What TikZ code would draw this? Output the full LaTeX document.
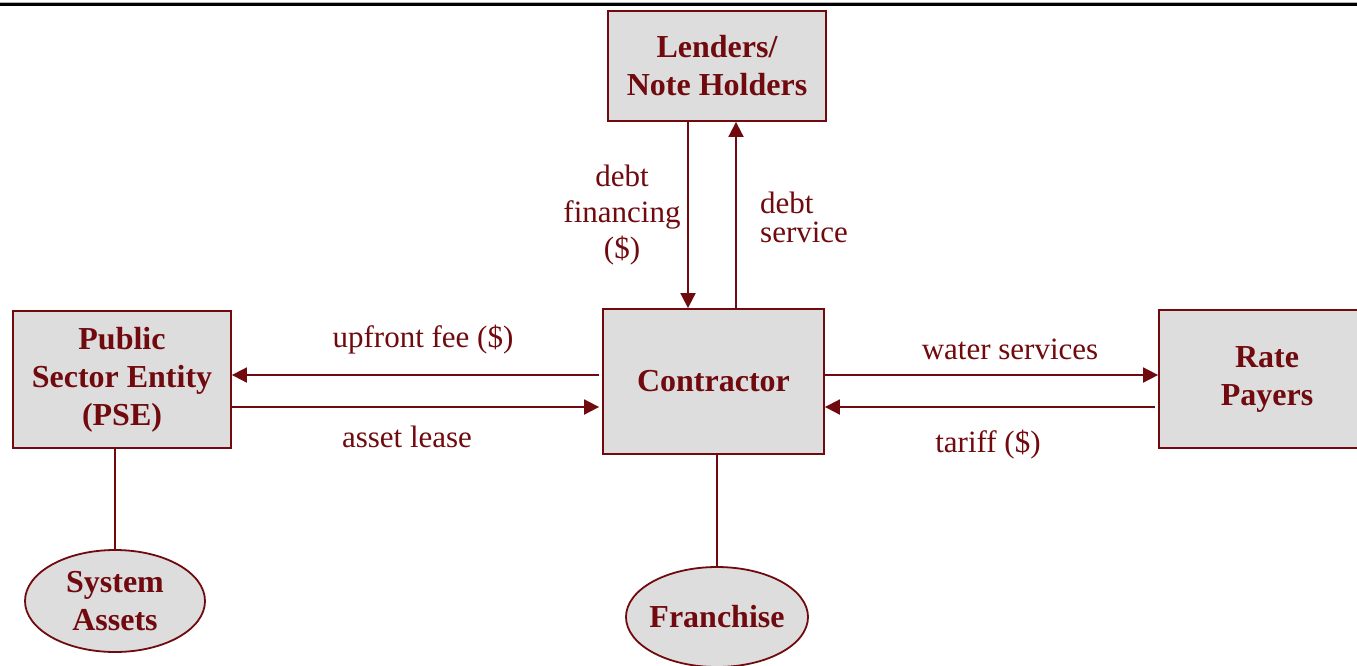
\documentclass[tikz,border=0pt]{standalone}
\usepackage{fontspec}
\setmainfont{Liberation Serif}
\usetikzlibrary{arrows.meta,shapes.geometric}
\definecolor{dred}{RGB}{112,10,14}
\definecolor{boxgray}{RGB}{221,221,221}
\tikzset{
  box/.style={draw=dred,fill=boxgray,line width=1.8pt,inner sep=0pt,align=center,
    text=dred,font=\fontsize{32}{38}\selectfont\bfseries},
  oval/.style={ellipse,draw=dred,fill=boxgray,line width=1.8pt,inner xsep=-10pt,inner ysep=0pt,align=center,
    text=dred,font=\fontsize{32}{38}\selectfont\bfseries},
  arr/.style={draw=dred,line width=1.8pt,-{Triangle[length=15pt,width=15pt]}},
  link/.style={draw=dred,line width=1.8pt},
  lbl/.style={text=dred,inner sep=0pt,align=center,font=\fontsize{31}{36}\selectfont}
}
\begin{document}
\begin{tikzpicture}[x=1pt,y=-1pt]
\useasboundingbox (0,0) rectangle (1357,665);
\fill[white] (0,0) rectangle (1357,665);
\draw[black,line width=2.6pt] (0,4.5) -- (1357,4.5);
\draw[gray!60,line width=0.8pt] (0,2.6) -- (1357,2.6);

\node[box,minimum width=218pt,minimum height=110pt] (len) at (717,66) {\raisebox{-2pt}{\parbox{200pt}{\centering Lenders/\\Note Holders}}};
\node[box,minimum width=221pt,minimum height=145pt] (con) at (713.5,381.5) {Contractor};
\node[box,minimum width=218pt,minimum height=137pt] (pse) at (122,379.5) {Public\\Sector Entity\\(PSE)};
\node[box,minimum width=216pt,minimum height=138pt] (rate) at (1267,379) {Rate\\Payers};
\node[oval,minimum width=180pt,minimum height=102pt] (sys) at (115,601) {System\\Assets};
\node[oval,minimum width=182pt,minimum height=100pt] (fr) at (717,617) {Franchise};

\coordinate (yA) at (0,375);
\coordinate (yB) at (0,407);
\coordinate (xF) at (688,0);
\coordinate (xS) at (736,0);

\draw[arr] (len.south -| xF) -- (con.north -| xF);
\draw[arr] (con.north -| xS) -- (len.south -| xS);
\draw[arr,shorten <=3pt] (con.west |- yA) -- (pse.east |- yA);
\draw[arr,shorten >=3pt] (pse.east |- yB) -- (con.west |- yB);
\draw[arr] (con.east |- yA) -- (rate.west |- yA);
\draw[arr,shorten <=3pt] (rate.west |- yB) -- (con.east |- yB);
\draw[link] (pse.south -| sys.north) -- (sys.north);
\draw[link] (con.south -| fr.north) -- (fr.north);

\node[lbl] (ldf) at (622,215) {debt\\financing\\(\$)};
\node[lbl,align=left,anchor=west,font=\fontsize{31}{29}\selectfont] (lds) at (760,217) {debt\\service};
\node[lbl] (luf) at (423,340) {upfront fee (\$)};
\node[lbl] (lal) at (407,437) {asset lease};
\node[lbl] (lws) at (1010,349) {water services};
\node[lbl] (ltf) at (988,445) {tariff (\$)};
\end{tikzpicture}
\end{document}
